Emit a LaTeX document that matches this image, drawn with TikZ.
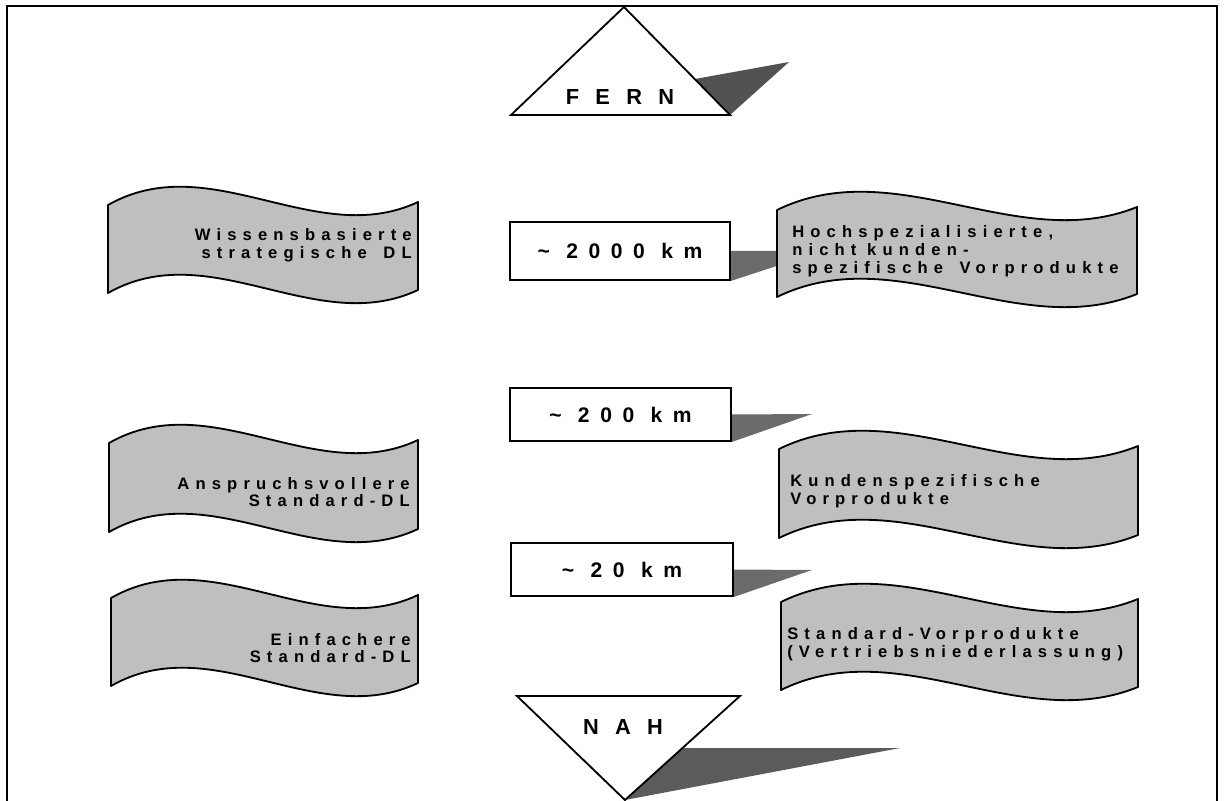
\documentclass[tikz,border=0pt]{standalone}
\usepackage{fontspec}
\setmainfont{Liberation Sans}
\newfontfamily\flagfont{Liberation Sans}[LetterSpace=37]
\newfontfamily\boxfont{Liberation Sans}[LetterSpace=50]
\newfontfamily\trifont{Liberation Sans}[LetterSpace=75]
\definecolor{flaggray}{gray}{0.75}
\definecolor{shadegray}{gray}{0.42}
\definecolor{darkshade}{gray}{0.32}
\pgfdeclarelayer{bg}
\pgfsetlayers{bg,main}
\newcommand\wsp{\hspace{1em}}
\tikzset{
  flag/.style={fill=flaggray,draw=black,line width=1.3pt,line join=round},
  flagtext/.style={font=\flagfont\bfseries\fontsize{11.8}{12.6}\selectfont,inner sep=0pt},
  kmbox/.style={draw=black,fill=white,line width=1.3pt,inner sep=0pt,
    font=\boxfont\bfseries\fontsize{15}{16}\selectfont},
  tri/.style={draw=black,fill=white,line width=1.3pt,line join=miter},
  tritext/.style={font=\trifont\bfseries\fontsize{15.5}{17}\selectfont,inner sep=0pt},
  shade/.style={fill=shadegray},
  frame/.style={draw=black,line width=0.9pt}
}
% #1=left x, #2=top-left y, #3=right x, #4=height
\newcommand\flagpath[4]{%
  \pgfmathsetmacro\fxa{#1+0.33*(#3-#1)}%
  \pgfmathsetmacro\fxb{#1+0.67*(#3-#1)}%
  \pgfmathsetmacro\fya{#2-58}%
  \pgfmathsetmacro\fyb{#2+45}%
  \pgfmathsetmacro\fyr{#2-3}%
  \pgfmathsetmacro\gya{#2-58+#4}%
  \pgfmathsetmacro\gyb{#2+45+#4}%
  \pgfmathsetmacro\gyr{#2-3+#4}%
  \pgfmathsetmacro\gyl{#2+#4}%
  \path[flag] (#1,#2) .. controls (\fxa,\fya) and (\fxb,\fyb) .. (#3,\fyr)
     -- (#3,\gyr) .. controls (\fxb,\gyb) and (\fxa,\gya) .. (#1,\gyl) -- cycle;%
}
\begin{document}
\begin{tikzpicture}[x=0.025cm,y=-0.025cm]
\useasboundingbox (0,0) rectangle (1224,801);
% frame
\draw[frame] (7,801) -- (7,6) -- (1217,6) -- (1217,801);

% FERN triangle
\coordinate (fA) at (624,7);
\coordinate (fL) at (511,115);
\coordinate (fR) at (730,115);
\coordinate (fS) at (789,62);
\begin{pgfonlayer}{bg}
  \fill[darkshade] (695,79) -- (fS) -- (fR) -- cycle;
\end{pgfonlayer}
\path[tri] (fA) -- (fR) -- (fL) -- cycle;
\node[tritext] (fern) at (620,97) {FERN};

% NAH triangle
\coordinate (nL) at (517,696);
\coordinate (nR) at (740,696);
\coordinate (nT) at (625,800);
\coordinate (nS) at (900,748);
\begin{pgfonlayer}{bg}
  \fill[shadegray!85!black] (683,748) -- (nS) -- (nT) -- cycle;
\end{pgfonlayer}
\path[tri] (nL) -- (nR) -- (nT) -- cycle;
\node[tritext] (nah) at (623,727) {NAH};

% banners
\flagpath{108}{205}{418}{88}
\flagpath{109}{443}{418}{89}
\flagpath{111}{598}{418}{88}
\flagpath{777}{210}{1137}{87}
\flagpath{779}{449}{1138}{89}
\flagpath{781}{602}{1138}{88}

\node[flagtext,anchor=east,align=right] (wiss) at (412,245) {Wissensbasierte\\strategische\wsp DL};
\node[flagtext,anchor=east,align=right] (ansp) at (410,492) {Anspruchsvollere\\Standard-DL};
\node[flagtext,anchor=east,align=right] (einf) at (411,648) {Einfachere\\Standard-DL};
\node[flagtext,anchor=west,align=left] (hoch) at (792,251) {Hochspezialisierte,\\nicht kunden-\\spezifische\wsp Vorprodukte};
\node[flagtext,anchor=west,align=left] (kund) at (790,491) {Kundenspezifische\\Vorprodukte};
\node[flagtext,anchor=west,align=left] (stdv) at (787,644) {Standard-Vorprodukte\\(Vertriebsniederlassung)};

% distance boxes
\node[kmbox,minimum width=5.5cm,minimum height=1.45cm] (b2000) at (620,251) {\textasciitilde{} 2000 km};
\node[kmbox,minimum width=5.525cm,minimum height=1.325cm] (b200) at (620.5,414.5) {\textasciitilde{} 200 km};
\node[kmbox,minimum width=5.55cm,minimum height=1.325cm] (b20) at (622,569.5) {\textasciitilde{} 20 km};

\begin{pgfonlayer}{bg}
  \fill[shade] (b2000.east) -- (hoch.west |- b2000.east) -- ++(0,10) -- (b2000.south east) -- cycle;
  \coordinate (t200) at (812,414);
  \coordinate (t20) at (812,570);
  \fill[shade] (b200.east) -- (t200) -- (b200.south east) -- cycle;
  \fill[shade] (b20.east) -- (t20) -- (b20.south east) -- cycle;
\end{pgfonlayer}
\end{tikzpicture}
\end{document}
